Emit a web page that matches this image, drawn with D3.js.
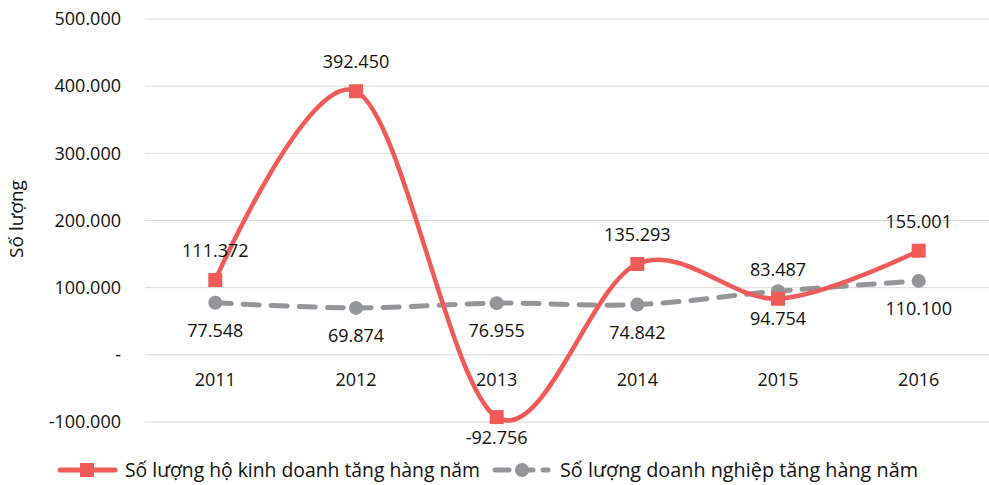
<!DOCTYPE html>
<html><head><meta charset="utf-8">
<script src="https://cdn.jsdelivr.net/npm/d3@7"></script>
<style>body{margin:0;background:#fff}svg{display:block}text{font-family:"Open Sans",sans-serif;fill:#111}</style>
</head><body><svg id="c" width="989" height="485"></svg>
<script>
const years = ["2011","2012","2013","2014","2015","2016"];
const hoKinhDoanh = [111372, 392450, -92756, 135293, 83487, 155001];
const doanhNghiep = [77548, 69874, 76955, 74842, 94754, 110100];
const yTicks = [-100000, 0, 100000, 200000, 300000, 400000, 500000];
const seriesNames = ["Số lượng hộ kinh doanh tăng hàng năm", "Số lượng doanh nghiệp tăng hàng năm"];

const red = "#F15B57", gray = "#949599";
const svg = d3.select("#c");
const x = d3.scalePoint().domain(years).range([145 + 70.3, 989 - 70.3]);
const y = d3.scaleLinear().domain([-100000, 500000]).range([422, 19]);
const fmt = v => v === 0 ? "-" : d3.format(",")(v).replace(/,/g, ".").replace("\u2212", "-");

// grid
svg.append("g").selectAll("line").data(yTicks).join("line")
  .attr("x1", 145).attr("x2", 989).attr("y1", d => y(d)).attr("y2", d => y(d))
  .attr("stroke", "#D9D9D9").attr("stroke-width", 1);

// y axis labels
const yAxis = d3.axisLeft(y).tickValues(yTicks).tickFormat(fmt).tickSize(0).tickPadding(0);
const ga = svg.append("g").attr("transform", "translate(121,0)").call(yAxis);
ga.select(".domain").remove();
ga.selectAll("text").attr("font-size", 18).attr("font-family", "Open Sans").attr("fill", "#111");

// x labels
svg.append("g").selectAll("text").data(years).join("text")
  .attr("x", d => x(d)).attr("y", 386).attr("text-anchor", "middle").attr("font-size", 18).text(d => d);

// y title
svg.append("text").attr("transform", "translate(23,219) rotate(-90)").attr("text-anchor", "middle")
  .attr("font-size", 19).text("Số lượng");

const curve = d3.curveCardinal.tension(0);
const line = d3.line().x((d, i) => x(years[i])).y(d => y(d)).curve(curve);

// gray series
svg.append("path").attr("d", line(doanhNghiep)).attr("fill", "none").attr("stroke", gray)
  .attr("stroke-width", 5).attr("stroke-dasharray", "16,12").attr("stroke-linecap", "round");
svg.append("g").selectAll("circle").data(doanhNghiep).join("circle")
  .attr("cx", (d, i) => x(years[i])).attr("cy", d => y(d)).attr("r", 7).attr("fill", gray);

// red series
svg.append("path").attr("d", line(hoKinhDoanh)).attr("fill", "none").attr("stroke", red)
  .attr("stroke-width", 4.5);
svg.append("g").selectAll("rect").data(hoKinhDoanh).join("rect")
  .attr("x", (d, i) => x(years[i]) - 7).attr("y", d => y(d) - 7).attr("width", 14).attr("height", 14).attr("fill", red);

// labels
svg.append("g").selectAll("text").data(hoKinhDoanh).join("text")
  .attr("x", (d, i) => x(years[i])).attr("y", d => d < 0 ? y(d) + 27 : y(d) - 23).attr("text-anchor", "middle")
  .attr("font-size", 18).text(fmt);
svg.append("g").selectAll("text").data(doanhNghiep).join("text")
  .attr("x", (d, i) => x(years[i])).attr("y", d => y(d) + 34).attr("text-anchor", "middle")
  .attr("font-size", 18).text(fmt);

// legend
const lg = svg.append("g");
lg.append("line").attr("x1", 60).attr("x2", 115).attr("y1", 470).attr("y2", 470)
  .attr("stroke", red).attr("stroke-width", 5).attr("stroke-linecap", "round");
lg.append("rect").attr("x", 80).attr("y", 463).attr("width", 14).attr("height", 14).attr("fill", red);
lg.append("text").attr("x", 125).attr("y", 477).attr("font-size", 20)
  .attr("textLength", 355).attr("lengthAdjust", "spacingAndGlyphs").text(seriesNames[0]);
lg.append("line").attr("x1", 495).attr("x2", 548).attr("y1", 470).attr("y2", 470)
  .attr("stroke", gray).attr("stroke-width", 5).attr("stroke-dasharray", "14,10").attr("stroke-linecap", "round");
lg.append("circle").attr("cx", 522).attr("cy", 470).attr("r", 7).attr("fill", gray);
lg.append("text").attr("x", 560).attr("y", 477).attr("font-size", 20)
  .attr("textLength", 358).attr("lengthAdjust", "spacingAndGlyphs").text(seriesNames[1]);
</script></body></html>
